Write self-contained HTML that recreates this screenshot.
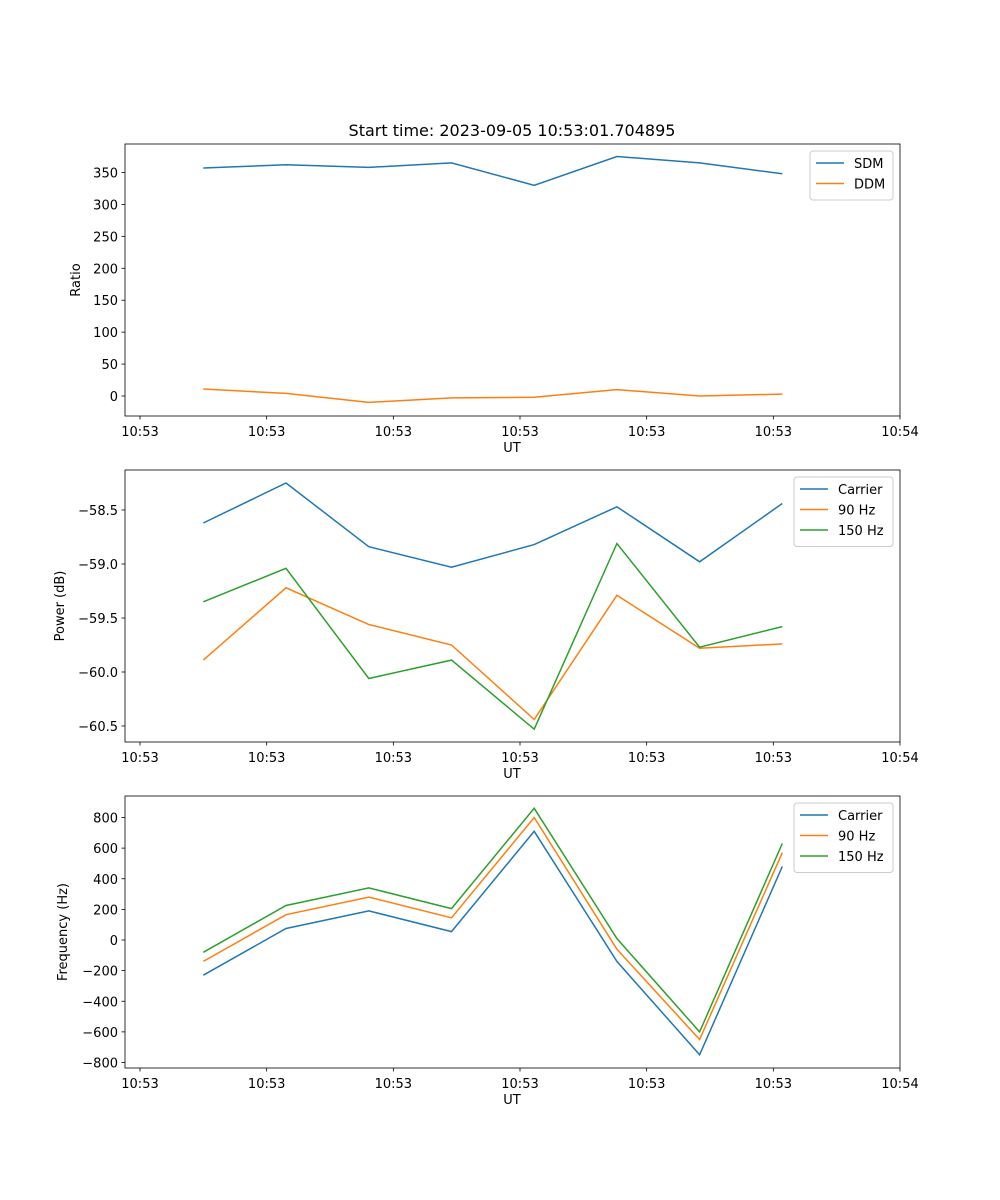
<!DOCTYPE html>
<html><head><meta charset="utf-8"><style>
body{margin:0;background:#fff;}
svg{display:block;font-family:"DejaVu Sans","Liberation Sans",sans-serif;}
</style></head><body>
<svg id="fig" width="1000" height="1200"></svg>
<script>
const xSeconds=[5,11.53,18.06,24.59,31.12,37.65,44.18,50.71];
const xTickVals=[0,10,20,30,40,50,60];
const xTickLabels=["10:53","10:53","10:53","10:53","10:53","10:53","10:54"];
const sdm=[357,362,358,365,330,375,365,348];
const ddm=[11,4,-10,-3,-2,10,0,3];
const ratioTicks=[0,50,100,150,200,250,300,350];
const powCarrier=[-58.62,-58.25,-58.84,-59.03,-58.82,-58.47,-58.98,-58.44];
const pow90=[-59.89,-59.22,-59.56,-59.75,-60.44,-59.29,-59.78,-59.74];
const pow150=[-59.35,-59.04,-60.06,-59.89,-60.53,-58.81,-59.77,-59.58];
const powTicks=[-58.5,-59.0,-59.5,-60.0,-60.5];
const freqCarrier=[-230,75,190,55,710,-140,-750,480];
const freq90=[-140,165,280,145,800,-60,-650,570];
const freq150=[-80,225,340,205,860,10,-600,630];
const freqTicks=[-800,-600,-400,-200,0,200,400,600,800];

const NS="http://www.w3.org/2000/svg";
const svg=document.getElementById('fig');
function el(tag,attrs,parent){const e=document.createElementNS(NS,tag);for(const k in attrs)e.setAttribute(k,attrs[k]);(parent||svg).appendChild(e);return e;}
const xs=v=>140+v*(760/60);
const C={b:"#1f77b4",o:"#ff7f0e",g:"#2ca02c"};

function panel(name,top,yMap,yTicks,fmt,ylabel,ylabelX,series,legendW){
  const g=el('g',{});
  
  
  const L=125,R=900,T=top,B=top+272;
  series.forEach(s=>{
    const pts=xSeconds.map((x,i)=>xs(x).toFixed(1)+','+yMap(s.vals[i]).toFixed(1)).join(' ');
    const p=el('polyline',{points:pts,fill:'none',stroke:s.color,'stroke-width':1.5},g);
    
    
  });
  el('rect',{x:L,y:T,width:R-L,height:B-T,fill:'none',stroke:'#000','stroke-width':0.8},g);
  xTickVals.forEach((v,i)=>{
    const x=xs(v);
    el('line',{x1:x,y1:B,x2:x,y2:B+3.5,stroke:'#000','stroke-width':0.8},g);
    const t=el('text',{x:x,y:B+20,'font-size':13,'text-anchor':'middle'},g);t.textContent=xTickLabels[i];
    
    
  });
  yTicks.forEach(v=>{
    const y=yMap(v);
    el('line',{x1:L-3.5,y1:y,x2:L,y2:y,stroke:'#000','stroke-width':0.8},g);
    const t=el('text',{x:L-7,y:y+5,'font-size':13,'text-anchor':'end'},g);t.textContent=fmt(v);
    
    
  });
  const xl=el('text',{x:512,y:B+36,'font-size':13,'text-anchor':'middle'},g);xl.textContent='UT';
  
  
  const yl=el('text',{x:ylabelX,y:(T+B)/2,'font-size':13,'text-anchor':'middle',transform:`rotate(-90 ${ylabelX} ${(T+B)/2})`},g);yl.textContent=ylabel;
  
  
  const lh=series.length*20.5+8, lx=R-7-legendW, ly=T+7;
  const lg=el('g',{},g);
  
  
  el('rect',{x:lx,y:ly,width:legendW,height:lh,rx:3,fill:'#fff','fill-opacity':0.8,stroke:'#ccc'},lg);
  series.forEach((s,i)=>{
    const yy=ly+12+i*20.5;
    el('line',{x1:lx+6,y1:yy,x2:lx+34,y2:yy,stroke:s.color,'stroke-width':1.5},lg);
    const t=el('text',{x:lx+44,y:yy+5,'font-size':13},lg);t.textContent=s.label;
    
    
  });
}
const minus=s=>s.replace('-','\u2212');
const title=el('text',{x:512,y:136,'font-size':16,'text-anchor':'middle'});title.textContent='Start time: 2023-09-05 10:53:01.704895';


panel('ratio-panel',144,v=>396-v*(223.5/350),ratioTicks,v=>String(v),'Ratio',80,
  [{id:'sdm',vals:sdm,color:C.b,label:'SDM'},{id:'ddm',vals:ddm,color:C.o,label:'DDM'}],83);
panel('power-panel',470,v=>510+(-58.5-v)*(216/2),powTicks,v=>minus(v.toFixed(1)),'Power (dB)',64,
  [{id:'power-carrier',vals:powCarrier,color:C.b,label:'Carrier'},{id:'power-90hz',vals:pow90,color:C.o,label:'90 Hz'},{id:'power-150hz',vals:pow150,color:C.g,label:'150 Hz'}],99);
panel('frequency-panel',796,v=>940-v*(122.5/800),freqTicks,v=>minus(String(v)),'Frequency (Hz)',67,
  [{id:'freq-carrier',vals:freqCarrier,color:C.b,label:'Carrier'},{id:'freq-90hz',vals:freq90,color:C.o,label:'90 Hz'},{id:'freq-150hz',vals:freq150,color:C.g,label:'150 Hz'}],99);
</script>
</body></html>
